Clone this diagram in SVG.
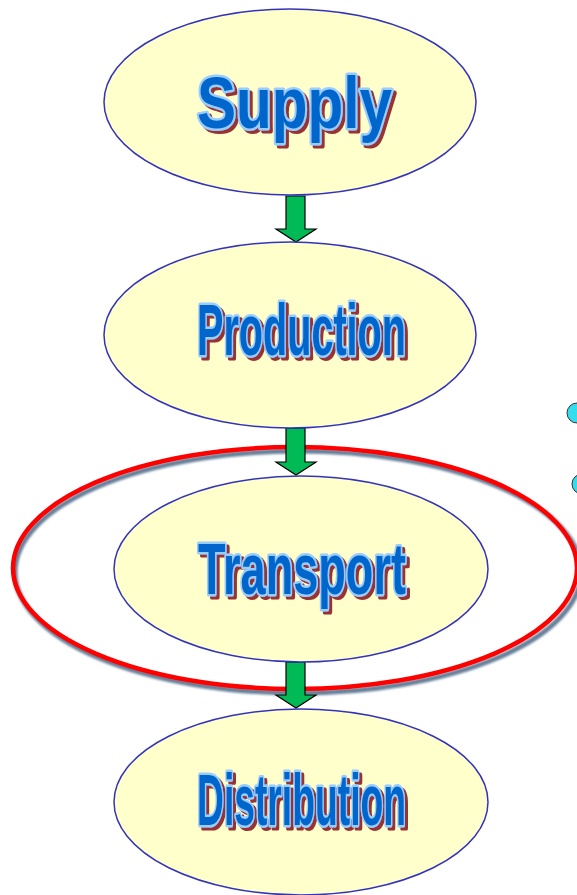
<svg xmlns="http://www.w3.org/2000/svg" width="577" height="895" viewBox="0 0 577 895">
  <style>
    .stage { fill: #ffffcc; stroke: #3333bb; stroke-width: 1.5; }
    .lbl { font-family: "Liberation Sans Narrow", "Liberation Sans", Arial, sans-serif; font-weight: bold; font-size: 72px;
           fill: #0066cc; stroke: #99ccff; stroke-width: 5; stroke-linejoin: round; paint-order: stroke;
           filter: url(#dropShadow); }
    .arrow { fill: #00bb55; stroke: #000000; stroke-width: 1.2; stroke-linejoin: miter; }
    .dot { fill: #33ddee; stroke: #333333; stroke-width: 1; }
  </style>
  <defs>
    <filter id="soft" x="-10%" y="-10%" width="120%" height="120%">
      <feGaussianBlur stdDeviation="1"/>
    </filter>
    <!-- dark red offset copy behind each stage title -->
    <filter id="dropShadow" x="-5%" y="-10%" width="115%" height="130%">
      <feOffset in="SourceAlpha" dx="3" dy="3" result="off"/>
      <feFlood flood-color="#993333"/>
      <feComposite in2="off" operator="in" result="shadow"/>
      <feMerge>
        <feMergeNode in="shadow"/>
        <feMergeNode in="SourceGraphic"/>
      </feMerge>
    </filter>
  </defs>
  <rect width="577" height="895" fill="#ffffff"/>

  <!-- small cyan bullets at the right edge -->
  <circle class="dot" cx="577" cy="413" r="10"/>
  <circle class="dot" cx="582" cy="484" r="10"/>

  <!-- highlight ring around the transport stage -->
  <g id="highlight">
    <ellipse cx="298" cy="572" rx="283" ry="121" fill="none" stroke="#667f99" stroke-width="5" filter="url(#soft)"/>
    <ellipse cx="295" cy="568" rx="282" ry="121" fill="none" stroke="#ff0000" stroke-width="4.5"/>
  </g>

  <g id="connectors">
    <path class="arrow" d="M286 196 L305 196 L305 229 L316 229 L296 242 L276 229 L286 229 Z"/>
    <path class="arrow" d="M286 428 L305 428 L305 462 L316 462 L296 475 L276 462 L286 462 Z"/>
    <path class="arrow" d="M286 662 L305 662 L305 695 L316 695 L296 708 L276 695 L286 695 Z"/>
  </g>

  <g id="supply">
    <ellipse class="stage" cx="290" cy="102" rx="186" ry="93"/>
    <text class="lbl" x="197" y="128" textLength="195" lengthAdjust="spacingAndGlyphs">Supply</text>
  </g>

  <g id="production">
    <ellipse class="stage" cx="290" cy="335" rx="186" ry="93"/>
    <text class="lbl" x="197" y="355" textLength="209" lengthAdjust="spacingAndGlyphs">Production</text>
  </g>

  <g id="transport">
    <ellipse class="stage" cx="301" cy="569" rx="187" ry="93"/>
    <text class="lbl" x="198" y="594" textLength="208" lengthAdjust="spacingAndGlyphs">Transport</text>
  </g>

  <g id="distribution">
    <ellipse class="stage" cx="301" cy="802" rx="187" ry="93"/>
    <text class="lbl" x="197" y="825" textLength="209" lengthAdjust="spacingAndGlyphs">Distribution</text>
  </g>
</svg>
